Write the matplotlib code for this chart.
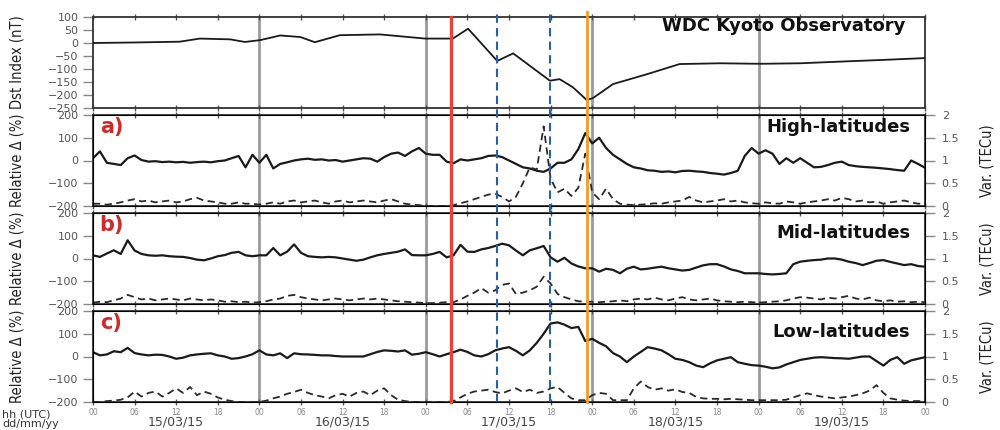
import numpy as np
import matplotlib
matplotlib.use('Agg')
import matplotlib.pyplot as plt
import matplotlib.font_manager as fm
from matplotlib.lines import Line2D
from matplotlib.transforms import blended_transform_factory

# ---- data ----
hours = np.arange(121)

dst_hours = [0, 6, 12.5, 15.4, 19.8, 21.9, 24.1, 27, 29.9, 32, 35.6, 41.4, 47.9, 51.9, 54.1,
             58.3, 60.6, 65.9, 67.3, 69.2, 71.2, 72.1, 75, 79.9, 84.6, 90.4, 96.2, 102, 109.2, 114, 120]
dst_vals = [0, 2, 5, 17, 14, 4, 11, 29, 23, 3, 30, 33, 17, 17, 55,
            -69, -40, -145, -139, -170, -219, -212, -158, -120, -81, -78, -80, -78, -70, -65, -58]

rel_high = ([10, 40, -10, -15, -20, 10, 22, 2, -5, -3, -7, -5, -8, -6, -10, -7, -5, -8, -3, 0, 10, 20, -30, 25]
            + [-10, 25, -35, -15, -8, 0, 5, 8, 3, 5, 0, 2, -5, 0, 5, 10, 8, -5, 15, 30, 35, 20, 40, 55]
            + [30, 25, 25, -5, -12, 5, 0, 5, 10, 20, 22, 15, 0, -15, -30, -35, -45, -50, -35, -10, -10, 5, 50, 120]
            + [75, 100, 55, 25, 5, -15, -30, -35, -43, -45, -50, -48, -52, -46, -45, -48, -50, -55, -58, -62, -55, -45, 20, 55]
            + [30, 45, 30, -15, 10, -10, 10, -10, -30, -28, -20, -10, -5, -20, -25, -28, -30, -32, -35, -38, -42, -45, 0, -15]
            + [-32])
tec_high = ([0.05, 0.05, 0.03, 0.05, 0.08, 0.12, 0.15, 0.1, 0.12, 0.08, 0.1, 0.12, 0.08, 0.1, 0.15, 0.18, 0.12, 0.1, 0.08, 0.05, 0.05, 0.08, 0.05, 0.05]
            + [0.03, 0.05, 0.08, 0.05, 0.1, 0.12, 0.08, 0.1, 0.12, 0.08, 0.05, 0.1, 0.12, 0.08, 0.1, 0.12, 0.1, 0.08, 0.12, 0.15, 0.1, 0.05, 0.03, 0.02]
            + [0.0, 0.0, 0.0, 0.0, 0.02, 0.06, 0.1, 0.15, 0.2, 0.25, 0.27, 0.2, 0.1, 0.2, 0.5, 0.85, 0.8, 1.75, 0.6, 0.3, 0.38, 0.22, 0.4, 1.15]
            + [0.3, 0.15, 0.38, 0.15, 0.05, 0.03, 0.02, 0.03, 0.04, 0.06, 0.05, 0.08, 0.1, 0.12, 0.2, 0.12, 0.08, 0.1, 0.12, 0.15, 0.1, 0.12, 0.08, 0.06]
            + [0.05, 0.08, 0.06, 0.05, 0.1, 0.08, 0.05, 0.08, 0.1, 0.12, 0.15, 0.12, 0.18, 0.15, 0.1, 0.12, 0.08, 0.1, 0.05, 0.08, 0.1, 0.12, 0.08, 0.05]
            + [0.06])

rel_mid = ([14, 7, 22, 36, 20, 80, 35, 20, 14, 12, 14, 10, 8, 7, 2, -5, -8, 0, 10, 15, 25, 29, 14, 10]
           + [14, 14, 46, 14, 30, 62, 25, 10, 7, 5, 7, 5, 0, -5, -10, -5, 5, 14, 20, 25, 30, 40, 15, 14]
           + [14, 20, 29, 5, 14, 60, 30, 29, 40, 46, 55, 65, 58, 35, 14, 36, 45, 55, 5, -14, 3, -22, -35, -43]
           + [-43, -58, -45, -50, -65, -45, -36, -48, -45, -40, -36, -43, -48, -53, -50, -40, -30, -25, -25, -35, -48, -55, -65, -65]
           + [-65, -68, -70, -68, -65, -25, -14, -10, -7, -5, 0, 0, -5, -14, -20, -29, -20, -10, -7, -15, -22, -29, -25, -33]
           + [-36])
tec_mid = ([0.03, 0.05, 0.04, 0.08, 0.12, 0.2, 0.15, 0.1, 0.12, 0.08, 0.1, 0.12, 0.1, 0.08, 0.12, 0.1, 0.08, 0.1, 0.08, 0.05, 0.06, 0.04, 0.05, 0.03]
           + [0.04, 0.06, 0.1, 0.12, 0.18, 0.2, 0.15, 0.12, 0.1, 0.08, 0.1, 0.12, 0.1, 0.08, 0.1, 0.12, 0.1, 0.12, 0.1, 0.08, 0.06, 0.05, 0.04, 0.03]
           + [0.02, 0.02, 0.03, 0.04, 0.04, 0.1, 0.18, 0.25, 0.35, 0.25, 0.3, 0.42, 0.45, 0.22, 0.25, 0.3, 0.38, 0.6, 0.45, 0.22, 0.15, 0.1, 0.06, 0.05]
           + [0.05, 0.04, 0.05, 0.06, 0.08, 0.06, 0.1, 0.12, 0.1, 0.14, 0.1, 0.08, 0.12, 0.15, 0.1, 0.08, 0.1, 0.12, 0.08, 0.06, 0.05, 0.04, 0.05, 0.04]
           + [0.03, 0.04, 0.05, 0.06, 0.08, 0.12, 0.15, 0.14, 0.12, 0.1, 0.14, 0.12, 0.15, 0.18, 0.12, 0.1, 0.14, 0.08, 0.06, 0.08, 0.05, 0.06, 0.04, 0.05]
           + [0.04])

rel_low = ([19, 5, 9, 23, 19, 38, 15, 9, 5, 8, 7, 0, -10, -5, 5, 9, 12, 14, 5, 0, -10, -7, 0, 10]
           + [27, 9, 5, 14, -7, 14, 10, 9, 7, 5, 5, 2, 0, 0, 0, 0, 10, 20, 27, 25, 22, 27, 8, 12]
           + [19, 10, 0, 10, 19, 30, 20, 5, 0, 10, 27, 35, 41, 25, 5, 27, 60, 100, 145, 150, 140, 125, 130, 68]
           + [78, 60, 45, 15, 0, -25, 0, 20, 41, 35, 27, 10, -10, -15, -25, -40, -47, -30, -17, -10, -3, -25, -32, -38]
           + [-40, -45, -52, -48, -35, -25, -15, -10, -5, -3, -5, -7, -8, -10, -5, 0, 0, -20, -40, -15, -3, -32, -17, -10]
           + [-3])
tec_low = ([0.0, 0.0, 0.02, 0.03, 0.05, 0.1, 0.23, 0.12, 0.2, 0.23, 0.12, 0.2, 0.3, 0.2, 0.33, 0.15, 0.23, 0.18, 0.1, 0.05, 0.02, 0.0, 0.0, 0.0]
           + [0.0, 0.03, 0.08, 0.12, 0.18, 0.22, 0.27, 0.2, 0.15, 0.12, 0.08, 0.15, 0.18, 0.12, 0.2, 0.23, 0.15, 0.25, 0.3, 0.15, 0.05, 0.02, 0.0, 0.0]
           + [0.0, 0.0, 0.0, 0.0, 0.02, 0.1, 0.18, 0.23, 0.25, 0.27, 0.22, 0.19, 0.25, 0.3, 0.22, 0.27, 0.2, 0.23, 0.3, 0.33, 0.2, 0.08, 0.04, 0.04]
           + [0.15, 0.2, 0.18, 0.04, 0.04, 0.04, 0.3, 0.45, 0.33, 0.27, 0.3, 0.25, 0.28, 0.22, 0.2, 0.11, 0.08, 0.07, 0.07, 0.06, 0.07, 0.06, 0.05, 0.04]
           + [0.04, 0.04, 0.04, 0.04, 0.05, 0.1, 0.15, 0.19, 0.15, 0.12, 0.1, 0.08, 0.1, 0.12, 0.15, 0.19, 0.25, 0.37, 0.2, 0.08, 0.05, 0.03, 0.02, 0.02]
           + [0.02])

day_labels = ['15/03/15', '16/03/15', '17/03/15', '18/03/15', '19/03/15']
hour_labels = ['00', '06', '12', '18'] * 5 + ['00']
panel_tags = ['a)', 'b)', 'c)']
panel_names = ['High-latitudes', 'Mid-latitudes', 'Low-latitudes']
event_hours = [51.6, 58.2, 65.9, 71.2]   # SSC, main phase marks, Dst minimum

# ---- fonts ----
plt.rcParams['font.family'] = ['DejaVu Sans']
cond = [f for f in fm.fontManager.ttflist
        if f.stretch == 'condensed' and f.weight in (400, 'normal') and f.style == 'normal'
        and f.name in ('DejaVu Sans', 'Liberation Sans Narrow', 'Roboto Condensed', 'Open Sans Condensed')]
if cond:
    lab_font = fm.FontProperties(fname=cond[0].fname, size=10.5)
else:
    lab_font = fm.FontProperties(family='Liberation Sans', size=9)

fig = plt.figure(figsize=(10, 4.3), dpi=100)
L, W = 0.093, 0.832
px = 1 / 430
H = 91
tops = [17, 115, 213, 311]
axes = [fig.add_axes([L, 1 - (t + H) * px, W, H * px]) for t in tops]


def style(ax):
    ax.set_xlim(0, 120)
    ax.set_xticks(np.arange(0, 121, 6))
    ax.tick_params(axis='x', direction='inout', length=5, width=1, color='#555',
                   top=True, labelbottom=False)
    ax.tick_params(axis='y', direction='out', length=7, width=1, color='#888',
                   labelsize=8, labelcolor='#555')
    for s in ax.spines.values():
        s.set_color('#333')
        s.set_linewidth(1.3)
    for d in range(1, 5):
        ax.axvline(24 * d, color='#9a9a9a', lw=2, zorder=1)


# Dst panel
ax0 = axes[0]
style(ax0)
ax0.plot(dst_hours, dst_vals, color='#1a1a1a', lw=1.3, zorder=5)
ax0.set_ylim(-250, 100)
ax0.set_yticks(np.arange(-250, 101, 50))
ax0.set_ylabel('Dst Index (nT)', fontproperties=lab_font, color='#222')
ax0.yaxis.set_label_coords(-0.082, 0.5)
ax0.text(0.976, 0.9, 'WDC Kyoto Observatory', transform=ax0.transAxes, ha='right',
         va='center', fontsize=13, fontweight='bold', color='#111')

rels = [rel_high, rel_mid, rel_low]
tecs = [tec_high, tec_mid, tec_low]
name_y = [0.87, 0.78, 0.77]
for i, ax in enumerate(axes[1:]):
    style(ax)
    ax.plot(hours, rels[i], color='#1a1a1a', lw=1.6, zorder=5)
    ax.set_ylim(-200, 200)
    ax.set_yticks([-200, -100, 0, 100, 200])
    ax.set_ylabel('Relative \u0394 (%)', fontproperties=lab_font, color='#222')
    ax.yaxis.set_label_coords(-0.082, 0.5)
    tw = ax.twinx()
    tw.plot(hours, tecs[i], color='#2a2a2a', lw=1.3, ls=(0, (4, 2.5)))
    tw.set_ylim(0, 2)
    tw.set_yticks([0, 0.5, 1, 1.5, 2])
    tw.set_yticklabels(['0', '0.5', '1', '1.5', '2'])
    tw.tick_params(axis='y', direction='out', length=7, width=1, color='#888',
                   labelsize=8, labelcolor='#555', pad=5)
    tw.set_ylabel('Var. (TECu)', fontproperties=lab_font, color='#222')
    tw.yaxis.set_label_coords(1.066, 0.5)
    ax.text(0.008, 0.87, panel_tags[i], transform=ax.transAxes, ha='left', va='center',
            fontsize=15, fontweight='bold', color='#d02a2a')
    ax.text(0.982, name_y[i], panel_names[i], transform=ax.transAxes, ha='right',
            va='center', fontsize=13, fontweight='bold', color='#111')

axb = axes[-1]
axb.tick_params(axis='x', labelbottom=True, labelsize=5.5, labelcolor='#888', pad=2)
axb.set_xticklabels(hour_labels)
for d, lab in enumerate(day_labels):
    axb.text(24 * d + 12, -0.22, lab, transform=blended_transform_factory(axb.transData, axb.transAxes),
             ha='center', va='center', fontsize=9, color='#444')
fig.text(0.002, 0.036, 'hh (UTC)', fontsize=8, color='#333', va='center')
fig.text(0.002, 0.013, 'dd/mm/yy', fontsize=8, color='#333', va='center')

# storm event markers crossing all panels
trans = blended_transform_factory(axb.transData, fig.transFigure)
ev_color = ['#e8433a', '#2b5ea7', '#2b5ea7', '#f59a23']
ev_style = ['-', (0, (4, 2.5)), (0, (4, 2.5)), '-']
ev_width = [2.4, 1.5, 1.5, 2.0]
ev_top = [0.96, 0.972, 0.972, 0.972]
for h, c, ls, lw, yt in zip(event_hours, ev_color, ev_style, ev_width, ev_top):
    fig.add_artist(Line2D([h, h], [1 - 402 * px, yt], transform=trans, color=c,
                          ls=ls, lw=lw, zorder=10))

fig.savefig('out.png', dpi=100)
